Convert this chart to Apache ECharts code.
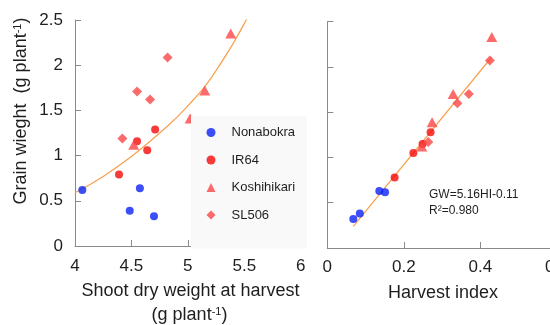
<!DOCTYPE html>
<html><head><meta charset="utf-8">
<script src="https://cdn.jsdelivr.net/npm/echarts@6/dist/echarts.min.js"></script>
<style>html,body{margin:0;padding:0;overflow:hidden;background:#fff;width:550px;height:325px}#c{width:600px;height:325px}</style>
</head><body><div id="c"></div>
<script>
// ---- data ----
const cultivars = ['Nonabokra', 'IR64', 'Koshihikari', 'SL506'];
// Left panel: shoot dry weight (g/plant) vs grain weight (g/plant)
const shootNonabokra   = [[4.065, 0.62], [4.575, 0.64], [4.485, 0.39], [4.70, 0.33]];
const shootIR64        = [[4.39, 0.79], [4.55, 1.16], [4.64, 1.06], [4.71, 1.29]];
const shootKoshihikari = [[4.52, 1.12], [5.02, 1.41], [5.15, 1.72], [5.38, 2.35]];
const shootSL506       = [[4.42, 1.19], [4.55, 1.71], [4.665, 1.62], [4.82, 2.085]];
const shootTrend       = [[4.0, 0.59], [4.25, 0.77], [4.5, 0.99], [4.75, 1.25], [5.0, 1.55], [5.25, 1.94], [5.53, 2.53]];
// Right panel: harvest index vs grain weight
const hiNonabokra   = [[0.068, 0.32], [0.085, 0.38], [0.136, 0.63], [0.151, 0.615]];
const hiIR64        = [[0.176, 0.78], [0.225, 1.05], [0.249, 1.15], [0.27, 1.28]];
const hiKoshihikari = [[0.247, 1.12], [0.274, 1.39], [0.329, 1.70], [0.43, 2.33]];
const hiSL506       = [[0.264, 1.17], [0.34, 1.60], [0.37, 1.70], [0.425, 2.07]];
const hiRegression  = [[0.068, 0.24], [0.43, 2.11]];
// Axis ranges / ticks
const leftX  = {min: 4, max: 6, interval: 0.5};
const rightX = {min: 0, max: 0.6, interval: 0.2};
const yRange = {min: 0, max: 2.5, interval: 0.5};
const equationText = 'GW=5.16HI-0.11';
const r2Text = 'R\u00b2=0.980';

// ---- styling ----
const FONT = '"Liberation Sans", Arial, sans-serif';
const BLUE = '#0b22f5', RED = '#f50a0a', LRED = '#fb4646', ORANGE = '#f7a04c';
const AXC = '#8a8a8a', TXT = '#1e1e1e';
const styles = {
  Nonabokra:   {symbol: 'circle', size: 8, color: BLUE},
  IR64:        {symbol: 'circle', size: 8, color: RED},
  Koshihikari: {symbol: 'triangle', size: [11, 10], color: LRED},
  SL506:       {symbol: 'diamond', size: [10, 10], color: LRED}
};
const leftData  = {Nonabokra: shootNonabokra, IR64: shootIR64, Koshihikari: shootKoshihikari, SL506: shootSL506};
const rightData = {Nonabokra: hiNonabokra, IR64: hiIR64, Koshihikari: hiKoshihikari, SL506: hiSL506};

function axisX(idx, r, margin) {
  return {type: 'value', gridIndex: idx, min: r.min, max: r.max, interval: r.interval,
    axisLine: {show: true, lineStyle: {color: AXC, width: 1}},
    axisTick: {show: true, inside: true, length: 6, lineStyle: {color: AXC}},
    axisLabel: {show: true, margin: margin, fontSize: 17, fontFamily: FONT, color: TXT,
      showMinLabel: true, showMaxLabel: true, hideOverlap: false},
    splitLine: {show: false}};
}
function axisY(idx, showLabel) {
  return {type: 'value', gridIndex: idx, min: yRange.min, max: yRange.max, interval: yRange.interval,
    axisLine: {show: true, lineStyle: {color: AXC, width: 1}},
    axisTick: {show: true, inside: true, length: 6, lineStyle: {color: AXC}},
    axisLabel: {show: showLabel, margin: 12, fontSize: 17, fontFamily: FONT, color: TXT},
    splitLine: {show: false}};
}

const series = [];
series.push({type: 'line', xAxisIndex: 0, yAxisIndex: 0, data: shootTrend, smooth: true, showSymbol: false,
  lineStyle: {color: ORANGE, width: 1.2}, z: 1, silent: true});
series.push({type: 'line', xAxisIndex: 1, yAxisIndex: 1, data: hiRegression, showSymbol: false,
  lineStyle: {color: ORANGE, width: 1.2}, z: 1, silent: true});
cultivars.forEach(function (name) {
  const s = styles[name];
  series.push({type: 'scatter', name: name, xAxisIndex: 0, yAxisIndex: 0, data: leftData[name],
    symbol: s.symbol, symbolSize: s.size, itemStyle: {color: s.color}, z: 2});
  series.push({type: 'scatter', name: name, xAxisIndex: 1, yAxisIndex: 1, data: rightData[name],
    symbol: s.symbol, symbolSize: s.size, itemStyle: {color: s.color}, z: 2});
});

const chart = echarts.init(document.getElementById('c'), null, {renderer: 'canvas'});
chart.setOption({
  animation: false,
  backgroundColor: '#fff',
  grid: [
    {left: 75, top: 20, width: 225.7, height: 226, containLabel: false, outerBoundsMode: 'none'},
    {left: 327.3, top: 21.7, width: 229.5, height: 226.3, containLabel: false, outerBoundsMode: 'none'}
  ],
  xAxis: [axisX(0, leftX, 12), axisX(1, rightX, 11)],
  yAxis: [axisY(0, true), axisY(1, false)],
  legend: {
    orient: 'vertical', left: 191, top: 116,
    backgroundColor: '#f9f9f9', borderWidth: 0,
    padding: [10, 12, 27, 15.5],
    itemWidth: 9, itemHeight: 9, itemGap: 14.5,
    textStyle: {fontSize: 13, fontFamily: FONT, color: TXT, padding: [0, 0, 0, 11]},
    data: cultivars.map(function (n) { return {name: n, icon: styles[n].symbol}; }),
    selectedMode: false
  },
  graphic: [
    {type: 'text', x: 21, y: 111, rotation: Math.PI / 2,
      style: {text: 'Grain wieght  (g plant{s|-1})', font: '18px ' + FONT, fill: TXT,
        align: 'center', verticalAlign: 'middle',
        rich: {s: {fontSize: 11, fontFamily: FONT, verticalAlign: 'top', fill: TXT}}}},
    {type: 'text', x: 190.5, y: 291,
      style: {text: 'Shoot dry weight at harvest', font: '18px ' + FONT, fill: TXT, align: 'center', verticalAlign: 'middle'}},
    {type: 'text', x: 189.5, y: 315,
      style: {text: '(g plant{s|-1})', font: '18px ' + FONT, fill: TXT, align: 'center', verticalAlign: 'middle',
        rich: {s: {fontSize: 11, fontFamily: FONT, verticalAlign: 'top', fill: TXT}}}},
    {type: 'text', x: 443, y: 292.7,
      style: {text: 'Harvest index', font: '18px ' + FONT, fill: TXT, align: 'center', verticalAlign: 'middle'}},
    {type: 'text', x: 429, y: 194.3,
      style: {text: equationText, font: '12px ' + FONT, fill: TXT, align: 'left', verticalAlign: 'middle'}},
    {type: 'text', x: 429, y: 210.7,
      style: {text: r2Text, font: '12px ' + FONT, fill: TXT, align: 'left', verticalAlign: 'middle'}}
  ],
  series: series
});
</script></body></html>
